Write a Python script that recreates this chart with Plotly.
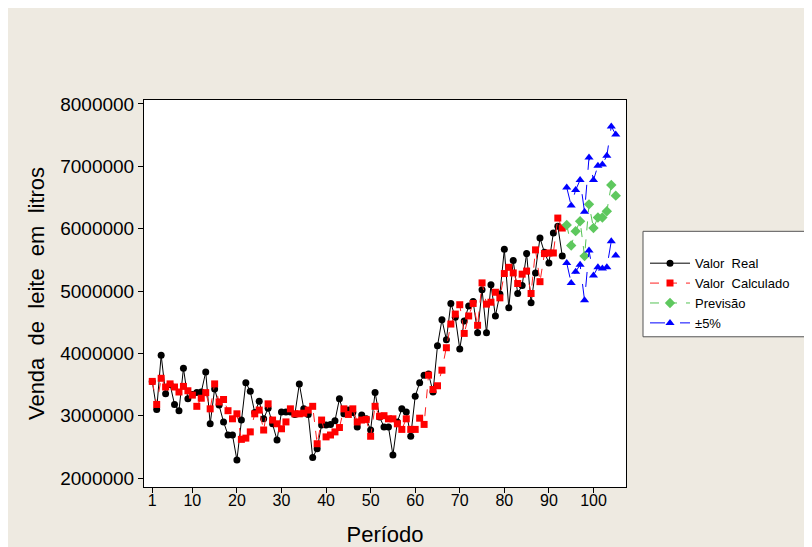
import plotly.graph_objects as go

# ---------------- data (millions of litres) ----------------
periodo_real = list(range(1, 94))
valor_real = [
    3.55, 3.10, 3.97, 3.35, 3.50, 3.18, 3.08, 3.76, 3.27, 3.34,
    3.37, 3.38, 3.70, 2.87, 3.43, 3.17, 2.90, 2.69, 2.69, 2.29,
    2.93, 3.53, 3.39, 3.05, 3.23, 2.95, 3.12, 2.87, 2.61, 3.06,
    3.06, 3.06, 3.02, 3.51, 3.11, 3.02, 2.33, 2.47, 2.85, 2.85,
    2.86, 2.92, 3.27, 3.03, 3.09, 3.05, 2.82, 3.01, 2.95, 2.77,
    3.37, 2.98, 2.82, 2.82, 2.37, 2.90, 3.11, 3.06, 2.67, 3.31,
    3.53, 3.65, 3.67, 3.38, 4.12, 4.54, 4.22, 4.80, 4.58, 4.07,
    4.52, 4.76, 4.83, 4.33, 5.02, 4.33, 5.10, 4.60, 4.95, 5.67,
    4.73, 5.49, 4.96, 5.09, 5.60, 4.81, 5.29, 5.85, 5.62, 5.45,
    5.93, 6.04, 5.56,
]
valor_calculado = [
    3.55, 3.18, 3.60, 3.46, 3.51, 3.46, 3.38, 3.47, 3.40, 3.33,
    3.15, 3.28, 3.37, 3.11, 3.51, 3.22, 3.26, 3.08, 2.95, 3.03,
    2.62, 2.64, 2.74, 3.03, 3.09, 2.77, 3.19, 2.93, 2.87, 2.79,
    2.90, 3.11, 3.03, 3.03, 3.04, 3.09, 3.15, 2.55, 2.93, 2.66,
    2.69, 2.74, 2.81, 3.11, 3.02, 3.11, 2.90, 2.93, 2.94, 2.67,
    3.15, 2.99, 3.00, 2.95, 2.95, 2.87, 2.78, 2.95, 2.78, 2.78,
    2.96, 2.86, 3.65, 3.42, 3.48, 3.73, 4.09, 4.47, 4.63, 4.78,
    4.32, 4.60, 4.80, 4.45, 5.13, 4.79, 4.82, 4.98, 4.89, 5.28,
    5.38, 5.29, 5.12, 5.27, 5.32, 4.96, 5.66, 5.15, 5.60, 5.61,
    5.61, 6.17, 6.01,
]
periodo_prev = list(range(94, 106))
previsao = [6.06, 5.73, 5.96, 6.12, 5.56, 6.39, 6.01, 6.18, 6.18, 6.28, 6.70, 6.53]
limite_sup = [6.66, 6.37, 6.62, 6.78, 6.27, 7.14, 6.78, 7.01, 7.03, 7.17, 7.64, 7.51]
limite_inf = [5.45, 5.13, 5.31, 5.42, 4.85, 5.65, 5.25, 5.38, 5.36, 5.38, 5.80, 5.57]

x_ticks = [1, 10, 20, 30, 40, 50, 60, 70, 80, 90, 100]
y_ticks = [2000000, 3000000, 4000000, 5000000, 6000000, 7000000, 8000000]
y_tick_labels = ["2000000", "3000000", "4000000", "5000000", "6000000", "7000000", "8000000"]

M = 1e6
def scale(vals):
    return [v * M for v in vals]

FONT = "Liberation Sans, Arial, sans-serif"

fig = go.Figure()

fig.add_trace(go.Scatter(
    x=periodo_real, y=scale(valor_real), name="Valor  Real",
    mode="lines+markers",
    line=dict(color="#000000", width=1),
    marker=dict(symbol="circle", size=7, color="#000000"),
))
fig.add_trace(go.Scatter(
    x=periodo_real, y=scale(valor_calculado), name="Valor  Calculado",
    mode="lines+markers",
    line=dict(color="#FF2020", width=1, dash="dash"),
    marker=dict(symbol="square", size=7, color="#FF0000"),
))
fig.add_trace(go.Scatter(
    x=periodo_prev, y=scale(previsao), name="Previsão",
    mode="lines+markers",
    line=dict(color="#55C255", width=1, dash="dash"),
    marker=dict(symbol="diamond", size=8, color="#5EC85E"),
))
fig.add_trace(go.Scatter(
    x=periodo_prev, y=scale(limite_sup), name="±5%",
    legendgroup="lim", mode="lines+markers",
    line=dict(color="#0000FF", width=1, dash="longdash"),
    marker=dict(symbol="triangle-up", size=8, color="#0000FF"),
))
fig.add_trace(go.Scatter(
    x=periodo_prev, y=scale(limite_inf), name="±5%",
    legendgroup="lim", showlegend=False, mode="lines+markers",
    line=dict(color="#0000FF", width=1, dash="longdash"),
    marker=dict(symbol="triangle-up", size=8, color="#0000FF"),
))

# plot area on screen: x 143..625, y 98..487 (482 x 389)
PX0, PY1, PW, PH = 143, 487, 482, 389
def px(x):
    return (x - PX0) / PW
def py(y):
    return (PY1 - y) / PH

# legend frame
fig.add_shape(type="rect", xref="paper", yref="paper",
              x0=px(642), x1=px(810), y0=py(336), y1=py(230),
              line=dict(color="#555555", width=1), fillcolor="white", layer="below")

fig.update_layout(
    width=812, height=547,
    margin=dict(l=136, r=194, t=92, b=66),
    paper_bgcolor="#EEEAE1",
    plot_bgcolor="white",
    font=dict(family=FONT, color="#000000", size=16),
    showlegend=True,
    legend=dict(
        x=px(644), y=py(247), xanchor="left", yanchor="top",
        bgcolor="rgba(0,0,0,0)", borderwidth=0,
        font=dict(family=FONT, size=13, color="#000000"),
        itemwidth=40, tracegroupgap=0,
    ),
    xaxis=dict(
        range=[-0.85, 107.3],
        tickmode="array", tickvals=x_ticks,
        ticks="outside", ticklen=5, tickcolor="#000000",
        ticklabelstandoff=-6,
        showgrid=False, zeroline=False,
        showline=True, linecolor="#000000", linewidth=1, mirror=True,
        tickfont=dict(size=16),
        title=dict(text="Período", font=dict(size=22), standoff=18),
    ),
    yaxis=dict(
        range=[1.856e6, 8.064e6],
        tickmode="array", tickvals=y_ticks, ticktext=y_tick_labels,
        ticks="outside", ticklen=5, tickcolor="#000000",
        showgrid=False, zeroline=False,
        showline=True, linecolor="#000000", linewidth=1, mirror=True,
        tickfont=dict(size=19),
        title=dict(text="Venda  de  leite  em  litros", font=dict(size=22), standoff=9),
    ),
)

fig.write_html("out.html")
